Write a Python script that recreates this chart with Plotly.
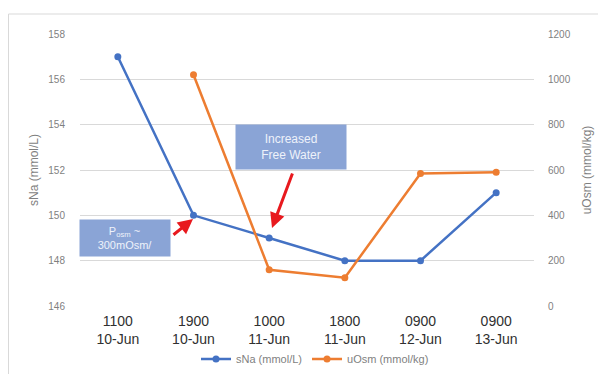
import plotly.graph_objects as go

categories = ["1100<br>10-Jun", "1900<br>10-Jun", "1000<br>11-Jun", "1800<br>11-Jun", "0900<br>12-Jun", "0900<br>13-Jun"]
sna_values = [157, 150, 149, 148, 148, 151]
uosm_values = [None, 1020, 160, 125, 585, 590]
left_ticks = [146, 148, 150, 152, 154, 156, 158]
right_ticks = [0, 200, 400, 600, 800, 1000, 1200]

BLUE = "#4472C4"
ORANGE = "#ED7D31"
FONT = "Liberation Sans"

# page has an 8px body margin; figure is sized to fit the window
OFF = 8
W, H = 606 - OFF, 374 - OFF
PL, PR, PT, PB = 80, 534, 34, 306  # plot area in page pixels
L, R, T, B = PL - OFF, W - (PR - OFF), PT - OFF, H - (PB - OFF)
PW, PH = PR - PL, PB - PT


def px(x):
    return (x - PL) / PW


def py(y):
    return (PB - y) / PH


fig = go.Figure()
fig.add_trace(go.Scatter(
    x=categories, y=sna_values, name="sNa (mmol/L)", mode="lines+markers",
    line=dict(color=BLUE, width=2.5), marker=dict(size=7, color=BLUE), yaxis="y"))
fig.add_trace(go.Scatter(
    x=categories, y=uosm_values, name="uOsm (mmol/kg)", mode="lines+markers",
    line=dict(color=ORANGE, width=2.5), marker=dict(size=7, color=ORANGE), yaxis="y2",
    connectgaps=False))

fig.update_layout(
    width=W, height=H,
    margin=dict(l=L, r=R, t=T, b=B),
    paper_bgcolor="white", plot_bgcolor="white",
    font=dict(family=FONT, color="#595959"),
    showlegend=True,
    legend=dict(orientation="h", xref="container", yref="container",
                x=(315 - OFF) / W, xanchor="center", y=1 - (359 - OFF) / H, yanchor="middle",
                font=dict(size=11, color="#7f7f7f"), itemwidth=30,
                bgcolor="rgba(0,0,0,0)", tracegroupgap=0),
    xaxis=dict(type="category", categoryarray=categories, range=[-0.5, 5.5],
               showgrid=False, showline=False, automargin=False,
               ticks="", tickfont=dict(size=14, color="#303030"), zeroline=False,
               ticklabelstandoff=5),
    yaxis=dict(range=[146, 158], tickvals=left_ticks, showgrid=True, gridcolor="#d9d9d9",
               gridwidth=1, zeroline=False, showline=False, ticks="", automargin=False,
               tickfont=dict(size=10, color="#7f7f7f"), ticklabelstandoff=14,
               title=dict(text="sNa (mmol/L)", font=dict(size=12, color="#7f7f7f"), standoff=7)),
    yaxis2=dict(range=[0, 1200], tickvals=right_ticks, overlaying="y", side="right",
                showgrid=False, zeroline=False, showline=False, ticks="", automargin=False,
                tickfont=dict(size=10, color="#7f7f7f"), ticklabelstandoff=13,
                title=dict(text="uOsm (mmol/kg)", font=dict(size=12, color="#7f7f7f"), standoff=12)),
)

# border lines (top and left) of the chart frame
fig.add_shape(type="line", xref="paper", yref="paper", x0=px(8.5), x1=px(606), y0=py(14), y1=py(14),
              line=dict(color="#d9d9d9", width=1))
fig.add_shape(type="line", xref="paper", yref="paper", x0=px(8.5), x1=px(8.5), y0=py(14), y1=py(374),
              line=dict(color="#d9d9d9", width=1))

# annotation boxes
fig.add_annotation(xref="paper", yref="paper", x=px(291), y=py(146.5),
                   xanchor="center", yanchor="middle",
                   text="Increased<br>Free Water", showarrow=False,
                   font=dict(size=12, color="#eef2fa", family=FONT),
                   bgcolor="#8aa4d6", width=106, height=40, borderpad=2)
fig.add_annotation(xref="paper", yref="paper", x=px(125), y=py(238),
                   xanchor="center", yanchor="middle",
                   text="P<sub>osm</sub> ~<br>300mOsm/", showarrow=False,
                   font=dict(size=11, color="#eef2fa", family=FONT),
                   bgcolor="#8aa4d6", width=86, height=32, borderpad=2)

# red arrows
fig.add_annotation(xref="paper", yref="paper", x=px(272), y=py(228),
                   ax=21, ay=-56, text="", showarrow=True,
                   arrowhead=2, arrowsize=1, arrowwidth=3, arrowcolor="#e8191e")
fig.add_annotation(xref="paper", yref="paper", x=px(193), y=py(219),
                   ax=-21, ay=17, text="", showarrow=True,
                   arrowhead=2, arrowsize=1, arrowwidth=3, arrowcolor="#e8191e")

fig.write_html("out.html")
